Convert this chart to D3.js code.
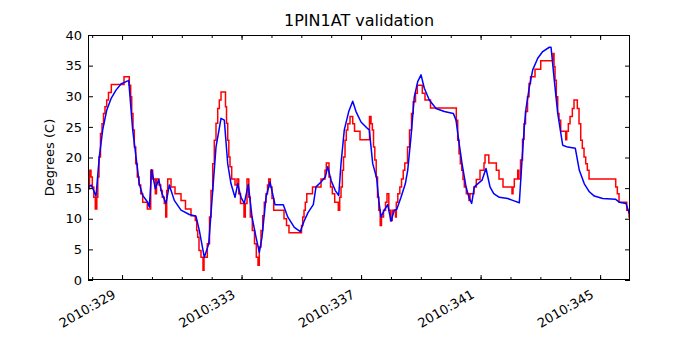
<!DOCTYPE html>
<html>
<head>
    <meta charset="UTF-8">
    <title>1PIN1AT validation</title>
    <script src="https://d3js.org/d3.v7.min.js"></script>
    <style>
        body { margin: 0; background: #fff; }
        text { font-family: "DejaVu Sans", sans-serif; fill: #000; }
    </style>
</head>
<body>
    <div id="my_dataviz"></div>

    <script type="text/javascript">

        // telemetry (red, quantized steps) : day of year 2010, degrees C
        let telemDays = [
            327.860, 327.910, 327.960, 328.004, 328.054, 328.104, 328.155, 328.188, 328.228, 328.278,
            328.329, 328.379, 328.429, 328.486, 328.546, 328.640, 329.065, 329.242, 329.289, 329.323,
            329.366, 329.410, 329.457, 329.510, 329.567, 329.624, 329.691, 329.845, 329.959, 330.026,
            330.113, 330.153, 330.236, 330.293, 330.347, 330.414, 330.461, 330.494, 330.528, 330.638,
            330.772, 330.973, 331.123, 331.307, 331.451, 331.498, 331.532, 331.575, 331.642, 331.709,
            331.743, 331.853, 331.927, 331.977, 332.034, 332.087, 332.144, 332.201, 332.255, 332.312,
            332.462, 332.496, 332.536, 332.573, 332.613, 332.670, 332.780, 332.847, 332.904, 332.964,
            333.081, 333.125, 333.182, 333.242, 333.292, 333.359, 333.433, 333.493, 333.550, 333.593,
            333.650, 333.707, 333.761, 333.818, 333.868, 333.908, 333.962, 334.018, 334.075, 334.420,
            334.504, 334.587, 335.006, 335.046, 335.090, 335.133, 335.183, 335.374, 335.659, 335.792,
            335.836, 335.926, 335.977, 336.037, 336.117, 336.238, 336.284, 336.328, 336.372, 336.412,
            336.462, 336.505, 336.556, 336.629, 336.720, 336.780, 336.964, 337.282, 337.332, 337.376,
            337.416, 337.459, 337.506, 337.550, 337.593, 337.640, 337.683, 337.750, 337.817, 337.868,
            337.928, 337.985, 338.042, 338.152, 338.179, 338.229, 338.296, 338.353, 338.410, 338.463,
            338.554, 338.621, 338.688, 338.744, 338.821, 338.882, 339.049, 339.139, 339.323, 340.187,
            340.234, 340.277, 340.321, 340.368, 340.411, 340.455, 340.522, 340.612, 340.645, 340.779,
            340.856, 340.980, 341.114, 341.148, 341.275, 341.526, 341.616, 341.750, 342.051, 342.085,
            342.128, 342.242, 342.276, 342.336, 342.403, 342.453, 342.503, 342.570, 342.620, 342.670,
            342.821, 343.012, 343.424, 343.457, 343.491, 343.534, 343.581, 343.624, 343.681, 343.849,
            343.882, 343.936, 343.993, 344.070, 344.126, 344.237, 344.294, 344.351, 344.404, 344.461,
            344.518, 344.572, 344.629, 345.522, 345.576, 345.633, 345.891, 345.968, 346.000
        ];
        let telemTemps = [
            14.9, 17.9, 16.8, 15.2, 13.5, 11.6, 13.5, 16.8, 20.1, 23.9,
            25.5, 27.2, 28.3, 29.4, 30.6, 31.9, 33.2, 31.8, 29.9, 27.2,
            24.5, 21.7, 19.0, 16.8, 15.5, 14.1, 12.7, 11.6, 17.9, 16.5,
            14.1, 16.5, 15.5, 14.6, 13.5, 12.5, 10.3, 14.6, 16.5, 15.2,
            14.1, 13.0, 11.6, 10.5, 9.7, 8.1, 7.0, 4.8, 3.7, 1.6,
            3.7, 5.9, 10.3, 14.6, 19.0, 22.8, 25.6, 28.0, 29.4, 30.7,
            28.3, 25.6, 22.8, 20.1, 18.5, 16.5, 15.5, 16.5, 14.1, 12.5,
            10.3, 12.5, 16.5, 13.5, 10.3, 8.1, 5.9, 3.7, 2.4, 5.4,
            8.1, 10.5, 12.7, 14.1, 15.5, 16.5, 15.2, 13.3, 11.4, 10.0,
            8.9, 7.7, 8.9, 10.3, 11.4, 12.7, 14.1, 15.2, 16.5, 17.9,
            19.1, 16.8, 15.2, 14.1, 12.7, 11.4, 13.5, 15.2, 17.9, 20.1,
            22.8, 24.5, 25.5, 26.7, 25.5, 24.3, 22.9, 26.7, 25.5, 24.5,
            21.7, 19.6, 16.8, 13.5, 11.4, 8.9, 10.3, 11.4, 12.7, 14.1,
            11.4, 9.7, 11.4, 10.3, 12.7, 14.1, 15.2, 16.5, 17.9, 19.1,
            21.7, 24.5, 27.2, 29.1, 30.5, 31.8, 30.5, 29.4, 28.1, 26.1,
            22.8, 20.6, 19.0, 17.9, 16.4, 15.2, 14.1, 13.0, 14.1, 15.2,
            16.4, 17.9, 19.1, 20.4, 19.1, 17.9, 16.5, 15.2, 14.1, 15.2,
            16.5, 17.9, 16.5, 19.6, 23.0, 25.5, 27.5, 29.9, 32.1, 33.2,
            34.4, 35.8, 37.0, 34.8, 32.6, 29.9, 27.2, 26.1, 24.3, 22.9,
            24.3, 25.5, 26.7, 28.0, 29.4, 28.0, 25.5, 22.8, 21.5, 20.1,
            19.0, 17.9, 16.5, 15.2, 14.1, 12.7, 11.4, 10.3, 10.3
        ];

        // model prediction (blue)
        let modelDays = [
            327.883, 327.970, 328.128, 328.238, 328.352, 328.486, 328.630, 328.797, 328.965, 329.189,
            329.222, 329.356, 329.467, 329.577, 329.691, 329.858, 329.912, 329.992, 330.113, 330.226,
            330.337, 330.471, 330.581, 330.748, 330.973, 331.251, 331.418, 331.475, 331.585, 331.753,
            331.900, 332.034, 332.144, 332.312, 332.422, 332.536, 332.646, 332.780, 332.870, 332.981,
            333.091, 333.225, 333.349, 333.483, 333.594, 333.684, 333.818, 333.952, 334.119, 334.397,
            334.544, 334.765, 334.966, 335.100, 335.223, 335.401, 335.491, 335.659, 335.802, 335.883,
            335.993, 336.137, 336.251, 336.328, 336.438, 336.586, 336.720, 336.830, 336.997, 337.222,
            337.275, 337.389, 337.523, 337.590, 337.667, 337.777, 337.891, 338.001, 338.112, 338.192,
            338.336, 338.480, 338.560, 338.671, 338.781, 338.895, 339.006, 339.116, 339.283, 339.508,
            339.786, 340.087, 340.177, 340.267, 340.378, 340.512, 340.622, 340.702, 340.789, 340.903,
            341.047, 341.181, 341.315, 341.439, 341.626, 341.907, 342.075, 342.296, 342.386, 342.463,
            342.520, 342.631, 342.744, 342.912, 343.079, 343.300, 343.357, 343.467, 343.581, 343.748,
            343.915, 344.170, 344.304, 344.471, 344.639, 344.806, 345.087, 345.509, 345.643, 345.867,
            345.978
        ];
        let modelTemps = [
            15.2, 15.5, 13.7, 20.1, 24.5, 27.7, 29.6, 31.0, 32.0, 32.5,
            32.6, 24.5, 20.1, 15.7, 13.8, 12.7, 11.9, 18.0, 14.9, 16.4,
            14.1, 12.5, 15.5, 13.0, 11.4, 10.7, 10.5, 10.4, 8.1, 3.7,
            5.9, 14.6, 21.7, 26.4, 26.1, 19.0, 15.7, 13.5, 15.7, 13.5,
            12.5, 15.6, 10.3, 7.0, 4.5, 7.0, 13.5, 16.0, 12.3, 12.3,
            10.3, 8.6, 7.9, 9.7, 11.0, 12.3, 15.2, 16.0, 16.8, 18.5,
            16.3, 14.6, 13.8, 19.0, 24.5, 27.5, 29.2, 27.5, 25.8, 24.7,
            24.5, 19.0, 16.6, 13.0, 10.3, 11.4, 12.3, 9.6, 11.4, 11.5,
            13.5, 15.7, 17.9, 23.4, 29.9, 32.4, 33.5, 31.3, 29.4, 28.0,
            27.5, 27.2, 26.1, 22.8, 19.0, 15.2, 13.3, 12.5, 15.2, 15.7,
            16.3, 18.2, 15.2, 14.1, 13.5, 13.3, 13.0, 12.6, 19.6, 25.0,
            28.0, 31.5, 34.3, 36.2, 37.3, 38.0, 38.0, 32.6, 27.2, 22.0,
            21.7, 21.5, 17.9, 15.7, 14.4, 13.7, 13.3, 13.2, 12.7, 12.5,
            10.8
        ];

        // axis ticks
        let majorDays = [329, 333, 337, 341, 345];
        let minorDays = d3.range(328, 346);
        let yTicks = [0, 5, 10, 15, 20, 25, 30, 35, 40];

        let margin = { top: 35, right: 70, bottom: 70, left: 88 },
            width = 700 - margin.left - margin.right,
            height = 350 - margin.top - margin.bottom;

        let svg = d3.select("#my_dataviz")
            .append("svg")
            .attr("width", 700)
            .attr("height", 350)
            .append("g")
            .attr("transform", "translate(" + margin.left + "," + margin.top + ")");

        let x = d3.scaleLinear().domain([327.86, 346.0]).range([0, width]);
        let y = d3.scaleLinear().domain([0, 40]).range([height, 0]);

        // clip lines to the axes box
        svg.append("clipPath").attr("id", "clip")
            .append("rect").attr("width", width).attr("height", height);

        let telem = telemDays.map((d, i) => [d, telemTemps[i]]);
        let model = modelDays.map((d, i) => [d, modelTemps[i]]);

        svg.append("path")
            .datum(telem)
            .attr("clip-path", "url(#clip)")
            .attr("fill", "none")
            .attr("stroke", "#ff0000")
            .attr("stroke-width", 1.5)
            .attr("d", d3.line().curve(d3.curveStepAfter)
                .x(d => x(d[0]))
                .y(d => y(d[1])));

        svg.append("path")
            .datum(model)
            .attr("clip-path", "url(#clip)")
            .attr("fill", "none")
            .attr("stroke", "#0000ff")
            .attr("stroke-width", 1.5)
            .attr("stroke-linejoin", "round")
            .attr("d", d3.line()
                .x(d => x(d[0]))
                .y(d => y(d[1])));

        // inward ticks on all four sides, matplotlib style
        function tickAxis(axis, g) {
            g.call(axis);
            g.select(".domain").remove();
            g.selectAll("line").attr("stroke", "#000");
        }

        let xBottom = svg.append("g").attr("transform", "translate(0," + height + ")");
        tickAxis(d3.axisBottom(x).tickValues(minorDays).tickSize(-3).tickFormat(""), xBottom.append("g"));
        tickAxis(d3.axisBottom(x).tickValues(majorDays).tickSize(-5).tickFormat(d => "2010:" + d), xBottom.append("g").attr("class", "major"));
        xBottom.select(".major").selectAll("text")
            .attr("font-size", 13)
            .attr("text-anchor", "end")
            .attr("y", 0).attr("dy", 0)
            .attr("transform", "translate(-6,17) rotate(-30)");

        let xTop = svg.append("g");
        tickAxis(d3.axisTop(x).tickValues(minorDays).tickSize(-3).tickFormat(""), xTop.append("g"));
        tickAxis(d3.axisTop(x).tickValues(majorDays).tickSize(-5).tickFormat(""), xTop.append("g"));

        let yLeft = svg.append("g");
        tickAxis(d3.axisLeft(y).tickValues(yTicks).tickSize(-5).tickPadding(6), yLeft);
        yLeft.selectAll("text").attr("font-size", 13);

        let yRight = svg.append("g").attr("transform", "translate(" + width + ",0)");
        tickAxis(d3.axisRight(y).tickValues(yTicks).tickSize(-5).tickFormat(""), yRight);

        // frame
        svg.append("rect")
            .attr("x", 0.5).attr("y", 0.5)
            .attr("width", width - 1).attr("height", height - 1)
            .attr("fill", "none")
            .attr("stroke", "#000")
            .attr("stroke-width", 1);

        svg.append("text")
            .attr("x", width / 2)
            .attr("y", -9)
            .attr("text-anchor", "middle")
            .attr("font-size", 16)
            .text("1PIN1AT validation");

        svg.append("text")
            .attr("transform", "translate(-34," + (height / 2) + ") rotate(-90)")
            .attr("text-anchor", "middle")
            .attr("font-size", 13)
            .text("Degrees (C)");

    </script>
</body>
</html>
